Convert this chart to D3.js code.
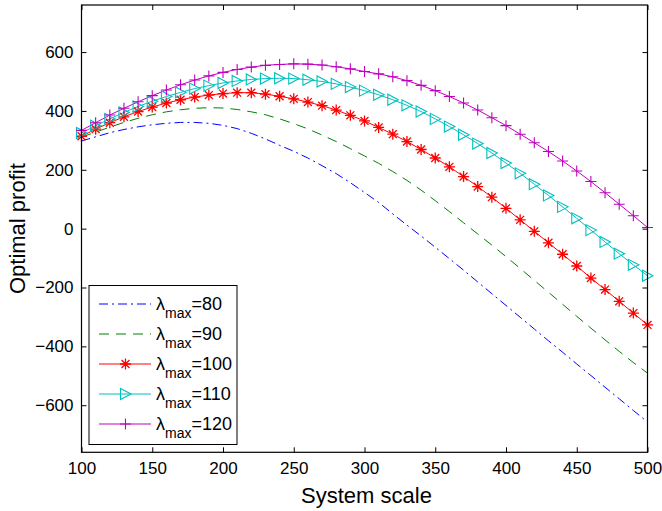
<!DOCTYPE html>
<html>
<head>
<meta charset="utf-8">
<script src="https://cdn.jsdelivr.net/npm/d3@7"></script>
<style>
  html, body { margin: 0; padding: 0; background: #fff; }
  svg { display: block; font-family: "Liberation Sans", Arial, Helvetica, sans-serif; }
</style>
</head>
<body>
<svg id="chart" width="662" height="511"></svg>
<script>
// ---- data ----
const systemScale = [100,110,120,130,140,150,160,170,180,190,200,210,220,230,240,250,260,270,280,290,300,
                     310,320,330,340,350,360,370,380,390,400,410,420,430,440,450,460,470,480,490,500];
const profit80  = [298,312,326,337,346,353,358,361,361,358,351,340,324,305,283,263,240,214,187,156,123,
                   89,50,12,-25,-63,-102,-141,-181,-221,-261,-301,-341,-381,-420,-460,-499,-539,-578,-618,-657];
const profit90  = [311,328,345,361,375,387,397,404,409,411,410,405,397,387,373,357,339,318,296,272,247,
                   222,194,164,131,95,58,20,-18,-56,-95,-135,-176,-216,-257,-298,-338,-378,-417,-455,-491];
const profit100 = [314,338,360,380,398,413,427,438,447,454,459,462,462,457,450,441,430,418,403,385,366,
                   344,321,296,269,240,210,177,143,107,69,30,-9,-48,-87,-127,-168,-207,-247,-287,-327];
const profit110 = [325,350,373,395,415,433,449,463,476,486,495,502,507,510,511,510,506,500,492,481,469,
                   455,438,419,398,373,347,319,289,257,223,188,151,113,74,35,-5,-45,-85,-123,-160];
const profit120 = [334,360,386,409,431,452,471,489,505,519,531,541,549,555,558,560,559,556,550,543,534,
                   526,516,503,487,469,449,427,403,377,350,321,292,262,230,196,160,122,83,44,4];
const lambdaLabels = ["80","90","100","110","120"];
const xTicks = [100,150,200,250,300,350,400,450,500];
const yTicks = [-600,-400,-200,0,200,400,600];
const xLabel = "System scale";
const yLabel = "Optimal profit";

// ---- styles ----
const seriesStyle = [
  {data: profit80,  color: "#0000ff", dash: "9,4,2,4", marker: null},
  {data: profit90,  color: "#008000", dash: "10,7",    marker: null},
  {data: profit100, color: "#ff0000", dash: null,      marker: "star"},
  {data: profit110, color: "#00bfbf", dash: null,      marker: "tri"},
  {data: profit120, color: "#bf00bf", dash: null,      marker: "plus"}
];

const svg = d3.select("#chart");
const L = 81.5, R = 647.5, T = 5, B = 452.3;

const x = d3.scaleLinear().domain([100, 500]).range([L, R]);
const y = d3.scaleLinear().domain([-760, 760]).range([B, T]);

function markerPath(type) {
  if (type === "star") {
    const r = 5.5, d = r * 0.72;
    return `M${-r},0L${r},0M0,${-r}L0,${r}M${-d},${-d}L${d},${d}M${-d},${d}L${d},${-d}`;
  }
  if (type === "tri") {
    return "M-5,-5.5L-5,5.5L5.5,0Z";
  }
  if (type === "plus") {
    const r = 5.5;
    return `M${-r},0L${r},0M0,${-r}L0,${r}`;
  }
  return "";
}

// clip
svg.append("defs").append("clipPath").attr("id", "clip")
  .append("rect").attr("x", L).attr("y", T).attr("width", R - L).attr("height", B - T);

const plot = svg.append("g").attr("clip-path", "url(#clip)");
const line = d3.line().x((d, i) => x(systemScale[i])).y(d => y(d));

seriesStyle.forEach(s => {
  plot.append("path")
    .attr("d", line(s.data))
    .attr("fill", "none")
    .attr("stroke", s.color)
    .attr("stroke-width", 1)
    .attr("stroke-dasharray", s.dash);
});
seriesStyle.forEach(s => {
  if (!s.marker) return;
  svg.append("g").selectAll("path")
    .data(s.data)
    .join("path")
    .attr("transform", (d, i) => `translate(${x(systemScale[i])},${y(d)})`)
    .attr("d", markerPath(s.marker))
    .attr("fill", "none")
    .attr("stroke", s.color)
    .attr("stroke-width", s.marker === "star" ? 1.3 : 1.1);
});

// axes with inward ticks on all sides
const tickLen = 5;
const axB = svg.append("g").attr("transform", `translate(0,${B})`)
  .call(d3.axisBottom(x).tickValues(xTicks).tickSize(-tickLen).tickPadding(10).tickFormat(d3.format("d")));
const axT = svg.append("g").attr("transform", `translate(0,${T})`)
  .call(d3.axisTop(x).tickValues(xTicks).tickSize(-tickLen).tickFormat(""));
const axL = svg.append("g").attr("transform", `translate(${L},0)`)
  .call(d3.axisLeft(y).tickValues(yTicks).tickSize(-tickLen).tickPadding(8)
        .tickFormat(d => d < 0 ? "\u2212" + Math.abs(d) : String(d)));
const axR = svg.append("g").attr("transform", `translate(${R},0)`)
  .call(d3.axisRight(y).tickValues(yTicks).tickSize(-tickLen).tickFormat(""));

[axB, axT, axL, axR].forEach(a => {
  a.select(".domain").remove();
  a.selectAll(".tick line").attr("stroke", "#000").attr("stroke-width", 1);
  a.selectAll("text").attr("fill", "#000").style("font-size", "17px")
    .style("font-family", "'Liberation Sans', Arial, sans-serif");
});

svg.append("rect").attr("x", L).attr("y", T).attr("width", R - L).attr("height", B - T)
  .attr("fill", "none").attr("stroke", "#000").attr("stroke-width", 1.2);

// axis titles
svg.append("text").attr("x", (L + R) / 2 + 2).attr("y", 503)
  .attr("text-anchor", "middle").style("font-size", "22px").text(xLabel);
svg.append("text").attr("transform", `translate(25,${(T + B) / 2}) rotate(-90)`)
  .attr("text-anchor", "middle").style("font-size", "22px").text(yLabel);

// legend
const lg = svg.append("g");
lg.append("rect").attr("x", 89).attr("y", 285.5).attr("width", 148).attr("height", 159)
  .attr("fill", "#fff").attr("stroke", "#000").attr("stroke-width", 1);
seriesStyle.forEach((s, i) => {
  const cy = 304 + i * 30;
  lg.append("line").attr("x1", 99).attr("x2", 151).attr("y1", cy).attr("y2", cy)
    .attr("stroke", s.color).attr("stroke-width", 1).attr("stroke-dasharray", s.dash);
  if (s.marker) {
    lg.append("path").attr("transform", `translate(125.5,${cy})`).attr("d", markerPath(s.marker))
      .attr("fill", "none").attr("stroke", s.color).attr("stroke-width", s.marker === "star" ? 1.3 : 1.1);
  }
  const t = lg.append("text").attr("x", 156).attr("y", cy + 6).style("font-size", "18px");
  t.append("tspan").text("\u03bb");
  t.append("tspan").attr("dy", 8).style("font-size", "14px").text("max");
  t.append("tspan").attr("dy", -8).text("=" + lambdaLabels[i]);
});
</script>
</body>
</html>
